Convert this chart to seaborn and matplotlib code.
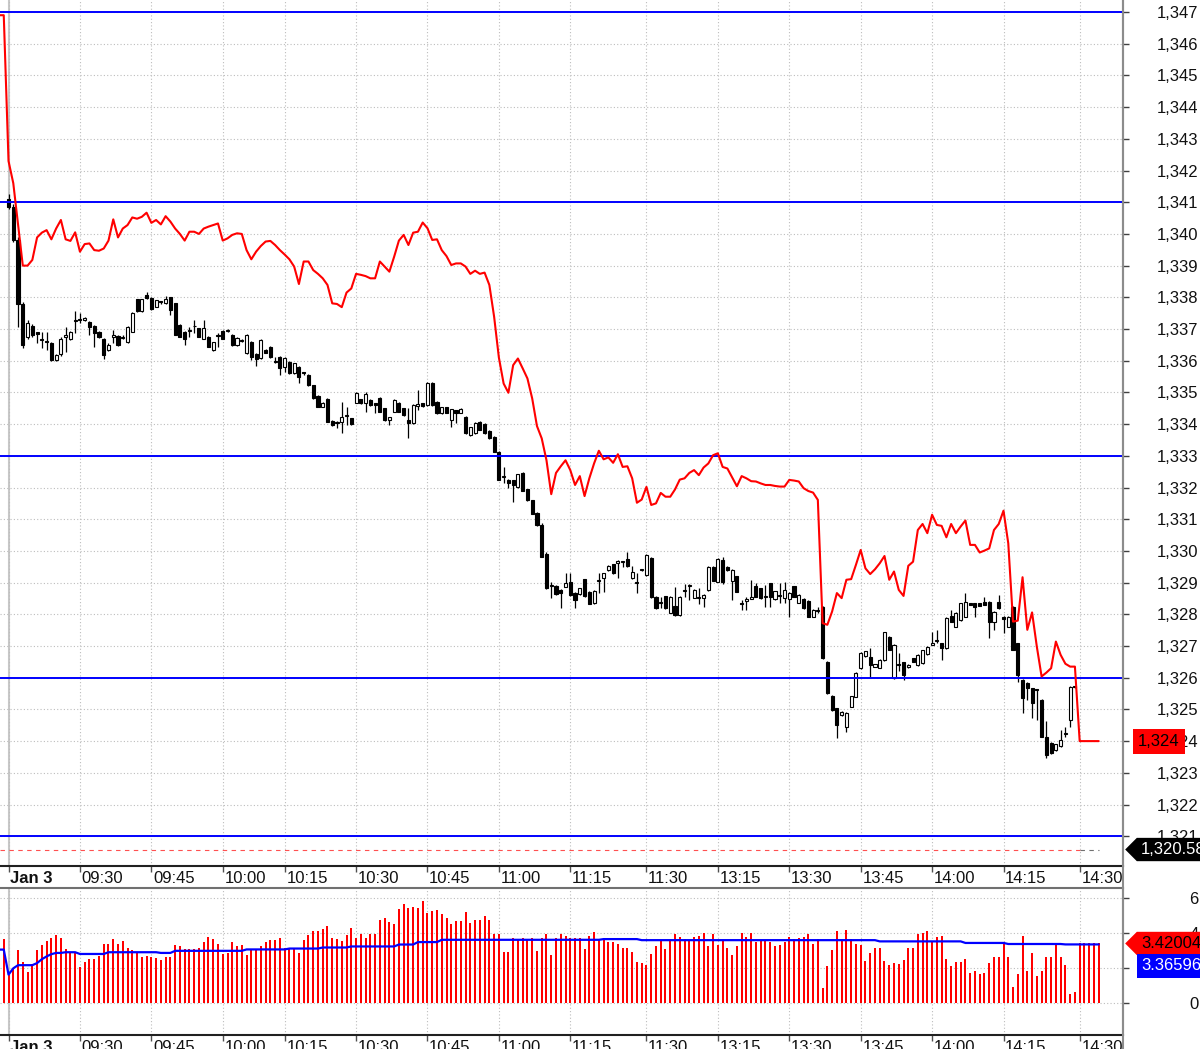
import numpy as np
import matplotlib
matplotlib.use('Agg')
import matplotlib.pyplot as plt
import matplotlib.transforms as mtransforms
from matplotlib.lines import Line2D
from matplotlib.path import Path
import seaborn as sns

# ---- values (one bar per minute, bar 0 = first bar of Jan 3) ----
opens = [
    1341.1, 1340.85, 1339.8, 1337.8, 1336.76, 1337.1, 1336.9, 1336.7, 1336.62, 1336.55,
    1336.02, 1336.2, 1336.76, 1336.7, 1337.25, 1337.3, 1337.28, 1337.23, 1337.09, 1336.92,
    1336.7, 1336.34, 1336.75, 1336.79, 1336.72, 1336.6, 1336.92, 1337.94, 1337.57, 1338.07,
    1337.97, 1337.7, 1337.84, 1337.81, 1338.0, 1337.81, 1337.13, 1336.92, 1336.95, 1337.08,
    1337.02, 1336.7, 1336.76, 1336.34, 1336.77, 1336.95, 1336.95, 1336.81, 1336.5, 1336.63,
    1336.25, 1336.6, 1336.2, 1336.08, 1336.34, 1336.44, 1335.98, 1336.13, 1335.81, 1335.97,
    1335.6, 1335.81, 1335.62, 1335.55, 1335.23, 1334.89, 1334.55, 1334.79, 1334.1, 1334.03,
    1334.08, 1334.27, 1334.18, 1334.68, 1334.78, 1334.66, 1334.76, 1334.66, 1334.82, 1334.5,
    1334.13, 1334.39, 1334.68, 1334.5, 1334.13, 1334.03, 1334.58, 1334.66, 1334.6, 1335.31,
    1334.71, 1334.34, 1334.53, 1334.13, 1334.43, 1334.36, 1334.24, 1333.66, 1333.71, 1334.08,
    1334.0, 1333.79, 1333.6, 1333.13, 1332.32, 1332.25, 1332.23, 1332.02, 1332.46, 1331.94,
    1331.6, 1331.2, 1330.81, 1329.89, 1328.9, 1328.89, 1328.78, 1328.87, 1329.03, 1328.68,
    1328.64, 1329.1, 1328.71, 1328.36, 1329.06, 1329.16, 1329.39, 1329.58, 1329.63, 1329.65,
    1329.76, 1329.13, 1328.98, 1329.39, 1329.24, 1329.79, 1328.55, 1328.35, 1328.57, 1328.05,
    1328.26, 1327.97, 1328.73, 1328.88, 1328.53, 1328.53, 1328.53, 1328.76, 1329.5, 1329.03,
    1329.72, 1329.5, 1329.06, 1329.2, 1328.35, 1328.43, 1328.49, 1328.88, 1328.82, 1328.55,
    1328.98, 1328.48, 1328.57, 1328.51, 1328.48, 1328.88, 1328.37, 1328.48, 1328.43, 1327.93,
    1328.11, 1328.24, 1326.51, 1325.43, 1325.04, 1324.82, 1324.46, 1325.09, 1325.4, 1326.3,
    1326.67, 1326.65, 1326.35, 1326.32, 1326.56, 1327.3, 1325.98, 1326.4, 1326.48, 1326.33,
    1326.61, 1326.4, 1326.46, 1326.75, 1327.04, 1327.15, 1327.09, 1326.93, 1327.95, 1327.61,
    1327.82, 1327.93, 1328.35, 1328.35, 1328.35, 1328.4, 1328.4, 1327.77, 1328.4, 1327.93,
    1327.61, 1328.24, 1327.09, 1325.93, 1325.83, 1325.67, 1325.62, 1325.3, 1324.12, 1323.95,
    1323.72, 1323.83, 1324.24, 1324.67, 1325.7,
]
highs = [
    1341.25, 1340.95, 1339.9, 1337.85, 1337.3, 1337.15, 1336.92, 1336.9, 1336.9, 1336.6,
    1336.2, 1336.75, 1337.07, 1336.95, 1337.57, 1337.5, 1337.38, 1337.25, 1337.12, 1336.95,
    1336.72, 1336.55, 1336.97, 1336.82, 1336.8, 1337.1, 1337.55, 1337.96, 1337.96, 1338.18,
    1338.0, 1337.93, 1337.9, 1338.05, 1338.02, 1337.83, 1337.15, 1336.94, 1337.07, 1337.28,
    1337.04, 1337.28, 1336.78, 1336.6, 1336.86, 1336.97, 1337.0, 1336.83, 1336.75, 1336.7,
    1336.83, 1336.62, 1336.23, 1336.67, 1336.36, 1336.46, 1336.13, 1336.15, 1336.13, 1335.99,
    1335.94, 1335.83, 1335.65, 1335.57, 1335.25, 1334.91, 1334.7, 1334.81, 1334.12, 1334.1,
    1334.71, 1334.55, 1334.2, 1335.01, 1334.8, 1335.02, 1334.78, 1334.68, 1334.84, 1334.52,
    1334.24, 1334.78, 1334.7, 1334.52, 1334.5, 1334.62, 1335.08, 1334.68, 1335.33, 1335.33,
    1334.73, 1334.55, 1334.55, 1334.49, 1334.45, 1334.5, 1334.26, 1333.92, 1334.07, 1334.1,
    1334.02, 1333.81, 1333.62, 1333.15, 1332.65, 1332.27, 1332.25, 1332.44, 1332.48, 1331.96,
    1331.62, 1331.22, 1330.87, 1329.97, 1329.03, 1328.91, 1328.8, 1329.29, 1329.29, 1328.7,
    1328.84, 1329.12, 1328.73, 1328.76, 1329.29, 1329.31, 1329.54, 1329.6, 1329.71, 1329.68,
    1329.97, 1329.52, 1329.29, 1329.41, 1329.89, 1329.81, 1328.57, 1328.55, 1328.59, 1328.57,
    1328.85, 1328.57, 1328.97, 1328.97, 1328.8, 1328.82, 1328.63, 1329.52, 1329.52, 1329.78,
    1329.8, 1329.52, 1329.42, 1329.22, 1328.45, 1328.56, 1329.09, 1328.98, 1328.84, 1328.93,
    1329.0, 1328.74, 1328.98, 1329.03, 1328.69, 1328.9, 1328.63, 1328.5, 1328.45, 1328.16,
    1328.24, 1328.26, 1326.53, 1325.45, 1325.06, 1324.95, 1324.92, 1325.43, 1326.18, 1326.81,
    1326.85, 1326.93, 1326.44, 1326.58, 1327.45, 1327.32, 1327.05, 1326.77, 1326.5, 1326.42,
    1326.63, 1326.74, 1326.88, 1327.0, 1327.43, 1327.49, 1327.11, 1327.9, 1328.14, 1328.07,
    1328.37, 1328.67, 1328.37, 1328.37, 1328.37, 1328.56, 1328.42, 1328.1, 1328.61, 1327.95,
    1327.95, 1328.26, 1327.11, 1325.95, 1325.85, 1325.69, 1325.65, 1325.32, 1324.62, 1323.97,
    1323.92, 1324.35, 1324.46, 1325.74, 1325.72,
]
lows = [
    1340.8, 1339.75, 1337.05, 1336.4, 1336.7, 1336.75, 1336.55, 1336.4, 1336.35, 1336.0,
    1336.0, 1336.15, 1336.28, 1336.65, 1336.86, 1337.2, 1337.25, 1336.81, 1336.44, 1336.72,
    1336.07, 1336.3, 1336.55, 1336.45, 1336.7, 1336.55, 1336.9, 1337.55, 1337.55, 1337.95,
    1337.6, 1337.68, 1337.8, 1337.8, 1337.44, 1336.8, 1336.74, 1336.5, 1336.76, 1336.86,
    1336.74, 1336.68, 1336.42, 1336.32, 1336.44, 1336.68, 1336.9, 1336.48, 1336.48, 1336.6,
    1336.2, 1336.02, 1335.83, 1336.06, 1336.23, 1336.09, 1335.92, 1335.55, 1335.66, 1335.58,
    1335.58, 1335.29, 1335.55, 1335.21, 1334.79, 1334.53, 1334.53, 1334.06, 1333.95, 1333.87,
    1333.71, 1333.97, 1333.98, 1334.66, 1334.64, 1334.39, 1334.58, 1334.34, 1334.37, 1334.11,
    1333.97, 1334.37, 1334.37, 1334.27, 1333.55, 1334.01, 1334.44, 1334.55, 1334.58, 1334.58,
    1334.32, 1334.32, 1334.34, 1333.92, 1334.03, 1334.34, 1333.69, 1333.64, 1333.69, 1333.8,
    1333.69, 1333.53, 1333.11, 1332.23, 1332.13, 1331.97, 1331.55, 1332.0, 1331.88, 1331.58,
    1331.16, 1330.79, 1329.8, 1328.8, 1328.5, 1328.62, 1328.19, 1328.85, 1328.59, 1328.19,
    1328.62, 1328.55, 1328.32, 1328.34, 1328.66, 1328.71, 1329.37, 1329.27, 1329.13, 1329.5,
    1329.5, 1329.11, 1328.66, 1329.37, 1329.22, 1328.53, 1328.17, 1328.19, 1328.17, 1328.03,
    1327.95, 1327.95, 1328.55, 1328.45, 1328.51, 1328.34, 1328.24, 1328.74, 1329.04, 1329.01,
    1328.95, 1329.38, 1328.45, 1328.69, 1328.15, 1328.15, 1328.47, 1328.54, 1328.49, 1328.24,
    1328.24, 1328.46, 1328.35, 1328.35, 1327.93, 1328.54, 1328.35, 1328.17, 1327.91, 1327.91,
    1328.03, 1326.59, 1325.49, 1324.96, 1324.09, 1324.8, 1324.3, 1325.07, 1325.38, 1326.28,
    1326.65, 1325.98, 1326.33, 1326.3, 1326.54, 1326.86, 1325.96, 1326.2, 1325.93, 1326.31,
    1326.49, 1326.38, 1326.44, 1326.73, 1327.02, 1327.09, 1326.56, 1326.91, 1327.75, 1327.59,
    1327.8, 1327.91, 1328.28, 1327.93, 1328.25, 1328.28, 1327.24, 1327.51, 1328.17, 1327.4,
    1327.59, 1326.86, 1325.88, 1324.88, 1325.3, 1324.72, 1324.67, 1324.12, 1323.46, 1323.6,
    1323.7, 1323.81, 1324.14, 1324.46, 1325.68,
]
closes = [
    1340.85, 1339.8, 1337.8, 1336.5, 1337.18, 1336.8, 1336.85, 1336.65, 1336.6, 1336.02,
    1336.18, 1336.7, 1336.82, 1336.9, 1337.27, 1337.28, 1337.34, 1337.07, 1336.88, 1336.76,
    1336.18, 1336.5, 1336.8, 1336.5, 1336.76, 1337.07, 1337.5, 1337.57, 1337.94, 1337.97,
    1337.63, 1337.91, 1337.86, 1337.95, 1337.6, 1336.81, 1336.76, 1336.68, 1336.97, 1337.1,
    1336.76, 1337.02, 1336.44, 1336.58, 1336.79, 1336.7, 1336.97, 1336.5, 1336.73, 1336.65,
    1336.81, 1336.13, 1336.05, 1336.65, 1336.25, 1336.11, 1335.97, 1335.76, 1336.08, 1335.6,
    1335.92, 1335.5, 1335.6, 1335.23, 1334.81, 1334.55, 1334.68, 1334.08, 1333.97, 1334.05,
    1334.24, 1334.29, 1334.0, 1334.99, 1334.66, 1334.95, 1334.6, 1334.6, 1334.39, 1334.13,
    1334.22, 1334.76, 1334.39, 1334.29, 1334.03, 1334.6, 1334.62, 1334.57, 1335.31, 1334.6,
    1334.34, 1334.53, 1334.36, 1334.47, 1334.34, 1334.48, 1333.71, 1333.9, 1334.05, 1333.82,
    1333.71, 1333.55, 1333.13, 1332.25, 1332.36, 1332.13, 1332.08, 1332.42, 1331.9, 1331.6,
    1331.18, 1330.81, 1329.82, 1328.82, 1328.92, 1328.64, 1328.66, 1329.0, 1328.61, 1328.45,
    1328.82, 1328.57, 1328.34, 1328.74, 1329.08, 1329.29, 1329.52, 1329.29, 1329.69, 1329.66,
    1329.52, 1329.34, 1328.99, 1329.39, 1329.87, 1328.55, 1328.19, 1328.36, 1328.19, 1328.55,
    1327.97, 1328.55, 1328.74, 1328.89, 1328.78, 1328.53, 1328.61, 1329.5, 1329.06, 1329.76,
    1329.03, 1329.4, 1329.4, 1328.71, 1328.34, 1328.47, 1328.56, 1328.56, 1328.51, 1328.56,
    1328.56, 1328.72, 1328.58, 1328.77, 1328.67, 1328.56, 1328.61, 1328.19, 1327.93, 1328.14,
    1328.12, 1326.61, 1325.51, 1324.98, 1324.51, 1324.93, 1324.9, 1325.41, 1326.16, 1326.79,
    1326.83, 1326.4, 1326.42, 1326.56, 1327.43, 1326.88, 1327.03, 1326.42, 1326.09, 1326.4,
    1326.51, 1326.72, 1326.86, 1326.98, 1327.09, 1327.19, 1326.93, 1327.88, 1327.77, 1328.05,
    1328.35, 1328.4, 1328.3, 1328.24, 1328.27, 1328.3, 1327.77, 1328.08, 1328.19, 1327.85,
    1327.93, 1326.88, 1326.09, 1325.35, 1325.67, 1325.2, 1325.6, 1324.14, 1323.57, 1323.62,
    1323.9, 1324.04, 1324.26, 1325.72, 1325.7,
]

# red overlay line, starts two bars before the first candle
red_start = -2
red_line = [
    1346.9, 1346.9,
    1342.3, 1341.6, 1340.3, 1339.0, 1339.0, 1339.18, 1339.89, 1340.04, 1340.12, 1339.83,
    1340.17, 1340.44, 1339.83, 1339.78, 1340.05, 1339.44, 1339.68, 1339.7, 1339.49, 1339.47,
    1339.54, 1339.79, 1340.46, 1339.89, 1340.17, 1340.28, 1340.52, 1340.48, 1340.54, 1340.67,
    1340.35, 1340.44, 1340.3, 1340.56, 1340.39, 1340.17, 1340.0, 1339.79, 1340.07, 1340.07,
    1340.0, 1340.17, 1340.23, 1340.28, 1340.33, 1339.79, 1339.86, 1339.97, 1340.02, 1340.0,
    1339.49, 1339.2, 1339.44, 1339.62, 1339.76, 1339.78, 1339.65, 1339.49, 1339.35, 1339.2,
    1338.97, 1338.42, 1339.13, 1339.13, 1338.86, 1338.74, 1338.6, 1338.39, 1337.81, 1337.79,
    1337.69, 1338.15, 1338.28, 1338.74, 1338.71, 1338.67, 1338.6, 1338.6, 1339.13, 1338.97,
    1338.81, 1339.28, 1339.79, 1339.97, 1339.65, 1340.04, 1340.07, 1340.36, 1340.18, 1339.81,
    1339.83, 1339.49, 1339.3, 1339.02, 1339.07, 1339.07, 1338.97, 1338.74, 1338.84, 1338.74,
    1338.78, 1338.39, 1337.39, 1336.1, 1335.28, 1334.99, 1335.86, 1336.07, 1335.76, 1335.44,
    1334.81, 1333.94, 1333.55, 1332.86, 1331.79, 1332.46, 1332.67, 1332.86, 1332.55, 1332.08,
    1332.36, 1331.73, 1332.29, 1332.76, 1333.16, 1332.89, 1332.95, 1332.78, 1333.05, 1332.65,
    1332.67, 1332.29, 1331.52, 1331.62, 1332.02, 1331.45, 1331.5, 1331.83, 1331.71, 1331.71,
    1331.94, 1332.25, 1332.29, 1332.46, 1332.55, 1332.39, 1332.63, 1332.76, 1333.02, 1333.08,
    1332.65, 1332.6, 1332.32, 1332.04, 1332.36, 1332.29, 1332.2, 1332.19, 1332.13, 1332.08,
    1332.08, 1332.05, 1332.03, 1332.03, 1332.24, 1332.22, 1332.19, 1331.98, 1331.89, 1331.84,
    1331.61, 1327.72, 1327.67, 1328.09, 1328.67, 1328.51, 1329.09, 1329.11, 1329.56, 1330.03,
    1329.45, 1329.27, 1329.42, 1329.61, 1329.84, 1329.09, 1329.35, 1328.77, 1328.58, 1329.53,
    1329.66, 1330.66, 1330.85, 1330.56, 1331.14, 1330.82, 1330.79, 1330.43, 1330.85, 1330.56,
    1330.77, 1330.96, 1330.19, 1330.19, 1329.95, 1330.01, 1330.08, 1330.66, 1330.85, 1331.27,
    1330.24, 1327.77, 1327.8, 1329.17, 1327.51, 1328.06, 1326.98, 1326.04, 1326.16, 1326.3,
    1327.14, 1326.72, 1326.44, 1326.35, 1326.35, 1324.0, 1324.0, 1324.0, 1324.0, 1324.0,
]

# volume bars (lower panel), same start as the red line
vol_start = -2
volume = [
    3.65, 3.65,
    1.6, 2.03, 3.04, 2.35, 1.78, 2.22, 3.04, 3.32, 3.57, 3.76,
    3.89, 3.74, 3.13, 2.96, 2.96, 2.06, 2.36, 2.56, 2.56, 2.68,
    3.41, 3.41, 3.7, 3.41, 3.55, 3.15, 3.02, 2.85, 2.65, 2.7,
    2.63, 2.59, 2.49, 2.62, 2.66, 3.35, 3.25, 3.1, 3.1, 3.1,
    3.19, 3.48, 3.77, 3.67, 3.38, 2.81, 2.85, 3.48, 3.25, 3.33,
    2.75, 3.1, 3.06, 3.25, 3.52, 3.63, 3.63, 3.71, 3.14, 3.14,
    3.1, 2.85, 3.63, 3.9, 4.15, 4.15, 4.24, 4.4, 3.71, 3.67,
    3.58, 3.92, 4.28, 3.73, 3.96, 3.73, 3.96, 3.96, 4.76, 4.86,
    4.63, 4.53, 5.39, 5.68, 5.43, 5.49, 5.43, 5.87, 5.16, 5.3,
    5.35, 5.11, 4.86, 4.53, 4.72, 4.72, 5.24, 4.59, 4.78, 4.78,
    5.01, 4.78, 3.96, 3.96, 2.91, 2.91, 3.71, 3.67, 3.71, 3.67,
    3.71, 3.0, 3.71, 3.96, 2.75, 3.71, 3.96, 3.82, 3.71, 3.71,
    3.71, 3.1, 3.86, 4.09, 3.7, 3.67, 3.48, 3.48, 3.38, 3.14,
    3.14, 2.94, 2.39, 2.29, 2.18, 2.81, 3.29, 3.58, 3.1, 3.58,
    3.96, 3.77, 3.67, 3.63, 3.77, 3.82, 4.02, 3.25, 3.96, 3.33,
    3.58, 3.19, 2.75, 3.25, 4.02, 3.8, 4.02, 3.52, 3.58, 3.58,
    3.52, 3.25, 3.33, 3.48, 3.77, 3.67, 3.71, 3.77, 3.96, 3.38,
    3.67, 0.9, 2.14, 3.06, 4.15, 3.58, 4.21, 3.67, 3.38, 3.33,
    2.43, 2.87, 3.19, 3.14, 2.43, 2.18, 2.33, 2.24, 2.49, 3.19,
    3.14, 3.96, 4.02, 4.15, 3.52, 3.77, 3.82, 2.56, 2.14, 2.37,
    2.37, 2.56, 1.76, 1.85, 1.66, 1.72, 2.29, 2.62, 2.62, 3.48,
    2.62, 0.96, 1.66, 3.82, 1.85, 2.87, 1.57, 1.85, 2.62, 2.62,
    3.33, 2.62, 2.18, 0.52, 0.65, 3.42, 3.42, 3.42, 3.42, 3.42,
]
# blue volume average, stored as (level, number of bars) runs
vol_avg_levels = [3.07, 1.64, 2.0, 2.18, 2.3, 2.52, 2.68, 2.81, 2.88, 2.92, 2.82, 2.92, 2.88,
                  3.0, 3.08, 3.13, 3.19, 3.25, 3.36, 3.5, 3.63, 3.67, 3.61, 3.54, 3.45, 3.39,
                  3.36596]
vol_avg_runs = [2, 1, 1, 4, 1, 1, 1, 1, 2, 3, 6, 11, 3,
                15, 9, 7, 6, 10, 4, 5, 34, 8, 50, 18, 9, 12,
                8]

tick_bars = [0, 15, 30, 45, 58, 73, 88, 103, 118, 134, 149, 164, 179, 194, 209, 225]
tick_labels = ['Jan 3', '09:30', '09:45', '10:00', '10:15', '10:30', '10:45', '11:00',
               '11:15', '11:30', '13:15', '13:30', '13:45', '14:00', '14:15', '14:30']
price_ticks = list(range(1321, 1348))
vol_ticks = [0, 2, 4, 6]
level_lines = [1347, 1341, 1333, 1326, 1321]
stop_level = 1320.58
last_vol = 3.42004
last_vol_avg = 3.36596

# ---- arrays ----
o = np.array(opens)
h = np.array(highs)
l = np.array(lows)
c = np.array(closes)
bars_x = np.arange(len(c))
red_x = np.arange(red_start, red_start + len(red_line))
vol_x = np.arange(vol_start, vol_start + len(volume))
vol_avg = np.repeat(vol_avg_levels, vol_avg_runs)
assert len(o) == len(h) == len(l) == len(c)
assert len(vol_avg) == len(volume)

# ---- style ----
sns.set_theme(style='white')
plt.rcParams['font.family'] = ['Liberation Sans', 'DejaVu Sans']
plt.rcParams['axes.unicode_minus'] = False

GRID = dict(color='#bdbdbd', linestyle=(0, (1, 2)), linewidth=0.8)
XLIM = (-1.79, 234.1)

fig = plt.figure(figsize=(12, 10.49), dpi=100)
ax = fig.add_axes([0, 1 - 866 / 1049, 1123 / 1200, 866 / 1049])
axv = fig.add_axes([0, 1 - 1035 / 1049, 1123 / 1200, (1035 - 888) / 1049])


def tag_left(x0, y0, width, height, mutation_size):
    # price tag box with a point on its left side
    pad = 0.25 * mutation_size
    x0, y0 = x0 - pad, y0 - pad
    x1, y1 = x0 + width + 2 * pad, y0 + height + 2 * pad
    ym = (y0 + y1) / 2
    tip = (y1 - y0) * 0.5
    verts = [(x0 - tip, ym), (x0, y0), (x1, y0), (x1, y1), (x0, y1), (x0 - tip, ym)]
    codes = [Path.MOVETO] + [Path.LINETO] * 4 + [Path.CLOSEPOLY]
    return Path(verts, codes)


# ---- main price panel ----
ax.set_axisbelow(True)
ax.grid(True, **GRID)
ax.axvline(tick_bars[0], color='#c8c8c8', lw=1.5, zorder=0.5)

up = c >= o
body_low = np.minimum(o, c)
body_h = np.maximum(np.abs(c - o), 0.03)
ax.vlines(bars_x, l, h, color='black', lw=0.9, zorder=2)
ax.bar(bars_x[up], body_h[up], bottom=body_low[up], width=0.65,
       color='white', edgecolor='black', linewidth=0.8, zorder=2.2)
ax.bar(bars_x[~up], body_h[~up], bottom=body_low[~up], width=0.65,
       color='black', edgecolor='black', linewidth=0.8, zorder=2.2)

for lvl in level_lines:
    ax.axhline(lvl, color='#0000ff', lw=1.4, zorder=3)

ax.hlines(stop_level, XLIM[0], len(c), color='#ff5050', lw=0.8,
          linestyles=(0, (4, 4)), zorder=3)
ax.hlines(stop_level, len(c), red_x[-1], color='#707070', lw=0.8,
          linestyles=(0, (4, 4)), zorder=3)

sns.lineplot(x=red_x, y=red_line, ax=ax, color='#ff0000', linewidth=1.5,
             estimator=None, sort=False, legend=False, zorder=4)

ax.set_xlim(*XLIM)
ax.set_ylim(1320.06, 1347.38)
ax.set_xlabel('')
ax.set_ylabel('')

ax.yaxis.tick_right()
ax.set_yticks(price_ticks)
ax.set_yticklabels([f'{v:,}' for v in price_ticks])
ax.tick_params(axis='y', which='major', right=True, left=False, direction='out',
               length=4, width=1, color='#404040', pad=20.4, labelsize=12,
               labelcolor='#111111')

ax.set_xticks(tick_bars)
ax.set_xticklabels(tick_labels, ha='left')
ax.tick_params(axis='x', which='major', bottom=True, direction='out', length=4.5,
               width=1, color='#505050', pad=-1, labelsize=12, labelcolor='#111111')

for side in ['left', 'top']:
    ax.spines[side].set_visible(False)
ax.spines['right'].set_color('#8c8c8c')
ax.spines['right'].set_linewidth(1.5)
ax.spines['bottom'].set_color('#202020')
ax.spines['bottom'].set_linewidth(1.5)

blend = mtransforms.blended_transform_factory(ax.transAxes, ax.transData)
ax.text(1138 / 1123, red_line[-1], f'{red_line[-1]:,.0f}', transform=blend,
        fontsize=12, color='black', va='center', ha='left', clip_on=False, zorder=10,
        bbox=dict(boxstyle='square,pad=0.3', fc='#ff0000', ec='none'))
ax.text(1141 / 1123, stop_level, f'{stop_level:,.2f}', transform=blend,
        fontsize=12, color='white', va='center', ha='left', clip_on=False, zorder=10,
        bbox=dict(boxstyle=tag_left, fc='black', ec='none'))

# ---- volume panel ----
axv.set_axisbelow(True)
axv.grid(True, **GRID)
axv.axvline(tick_bars[0], color='#c8c8c8', lw=1.5, zorder=0.5)
axv.bar(vol_x, volume, width=0.42, color='#ff0000', linewidth=0, zorder=2)
sns.lineplot(x=vol_x, y=vol_avg, ax=axv, color='#0000ff', linewidth=1.6,
             estimator=None, sort=False, legend=False, zorder=3)

axv.set_xlim(*XLIM)
axv.set_ylim(-1.81, 6.59)
axv.set_xlabel('')
axv.set_ylabel('')

axv.yaxis.tick_right()
axv.set_yticks(vol_ticks)
axv.set_yticklabels([str(v) for v in vol_ticks])
axv.tick_params(axis='y', which='major', right=True, left=False, direction='out',
                length=4, width=1, color='#404040', pad=50.5, labelsize=12,
                labelcolor='#111111')
for lbl in axv.get_yticklabels():
    lbl.set_horizontalalignment('right')

axv.set_xticks(tick_bars)
axv.set_xticklabels(tick_labels, ha='left')
axv.tick_params(axis='x', which='major', bottom=True, direction='out', length=4.5,
                width=1, color='#505050', pad=-1, labelsize=12, labelcolor='#111111')

axv.spines['left'].set_visible(False)
axv.spines['right'].set_color('#8c8c8c')
axv.spines['right'].set_linewidth(1.5)
axv.spines['top'].set_color('#707070')
axv.spines['top'].set_linewidth(1.5)
axv.spines['bottom'].set_color('#202020')
axv.spines['bottom'].set_linewidth(1.5)

vblend = mtransforms.blended_transform_factory(axv.transAxes, axv.transData)
axv.text(1141 / 1123, last_vol, f'{last_vol:.5f}', transform=vblend,
         fontsize=12, color='black', va='center', ha='left', clip_on=False, zorder=10,
         bbox=dict(boxstyle=tag_left, fc='#ff0000', ec='none'))
axv.annotate(f'{last_vol_avg:.5f}', xy=(1141 / 1123, last_vol_avg), xycoords=vblend,
             xytext=(0, -15.5), textcoords='offset points', fontsize=12, color='white',
             va='center', ha='left', annotation_clip=False, zorder=10,
             bbox=dict(boxstyle='square,pad=0.25', fc='#0000ff', ec='none'))

# right border runs through the time band too
fig.add_artist(Line2D([1123 / 1200, 1123 / 1200], [0, 1], transform=fig.transFigure,
                      color='#8c8c8c', lw=1.5))

# time labels: bold date, small nudge right of the tick
shift = mtransforms.ScaledTranslation(1.2 / 72, 0, fig.dpi_scale_trans)
for a in (ax, axv):
    labels = a.get_xticklabels()
    labels[0].set_fontweight('bold')
    for lbl in labels:
        lbl.set_transform(lbl.get_transform() + shift)

fig.savefig('out.png', dpi=100)
